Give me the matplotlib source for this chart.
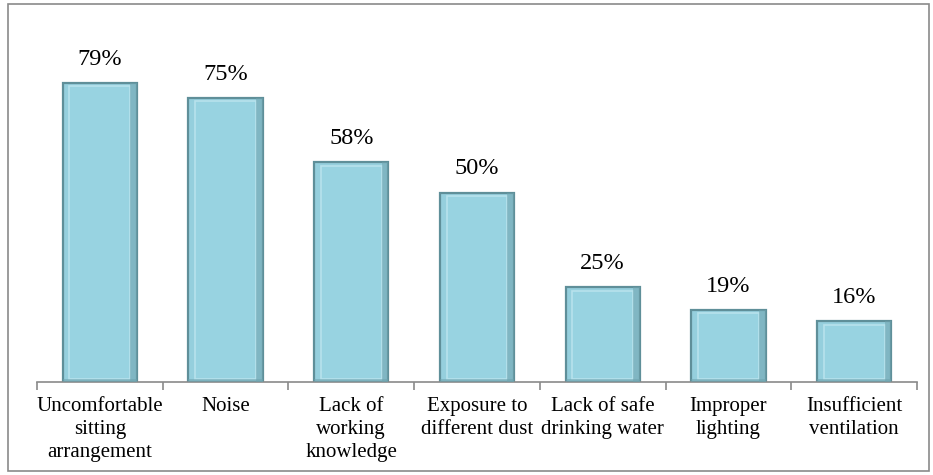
import numpy as np
import matplotlib.pyplot as plt
from matplotlib.patches import Rectangle

# Survey results: share of respondents reporting each workplace problem
categories = ["Uncomfortable\nsitting\narrangement", "Noise", "Lack of\nworking\nknowledge",
              "Exposure to\ndifferent dust", "Lack of safe\ndrinking water",
              "Improper\nlighting", "Insufficient\nventilation"]
values = [79, 75, 58, 50, 25, 19, 16]

plt.rcParams['font.family'] = ['Liberation Serif', 'DejaVu Serif']

fig = plt.figure(figsize=(9.33, 4.75), dpi=100)
# outer frame round the whole chart
fig.patches.append(Rectangle((8/933, 4/475), 921/933, 467/475, transform=fig.transFigure,
                             fill=False, edgecolor='#8a8a8a', lw=1.2))

ax = fig.add_axes([37/933, (475-382)/475, 880/933, 379/475])
x = np.arange(len(values))
w = 0.59
bars = ax.bar(x, values, width=w, color='#95cfdd', edgecolor='#5f8f99', linewidth=1.6, zorder=2)

# simple bevel: an inset rectangle with a lighter rim, darker right and bottom sides
for b in bars:
    bx, bw, bh = b.get_x(), b.get_width(), b.get_height()
    ax.add_patch(Rectangle((bx + bw*0.09, 0.9), bw*0.82, bh - 1.8,
                           facecolor='#98d3e1', edgecolor='#b7e2ec', lw=1.2, zorder=3))
    ax.add_patch(Rectangle((bx + bw*0.91, 0), bw*0.09, bh,
                           facecolor='#6fa3ae', edgecolor='none', alpha=0.55, zorder=3))
    ax.add_patch(Rectangle((bx, 0), bw, 0.9,
                           facecolor='#6fa3ae', edgecolor='none', alpha=0.55, zorder=3))

for xi, v in zip(x, values):
    ax.annotate(f"{v}%", (xi, v), xytext=(0, 13), textcoords='offset points',
                ha='center', va='baseline', fontsize=17.5)

ax.set_xlim(-0.5, len(values) - 0.5)
ax.set_ylim(0, 100)
for s in ['top', 'right', 'left']:
    ax.spines[s].set_visible(False)
ax.spines['bottom'].set_color('#8a8a8a')
ax.spines['bottom'].set_linewidth(1.2)
ax.set_yticks([])

ax.set_xticks(x)
ax.set_xticklabels(categories, fontsize=15, linespacing=1.28)
ax.tick_params(axis='x', which='major', length=0, pad=11)
ax.set_xticks(np.arange(len(values) + 1) - 0.5, minor=True)
ax.tick_params(axis='x', which='minor', length=6, color='#8a8a8a', width=1.2)

fig.savefig('out.png', dpi=100)
